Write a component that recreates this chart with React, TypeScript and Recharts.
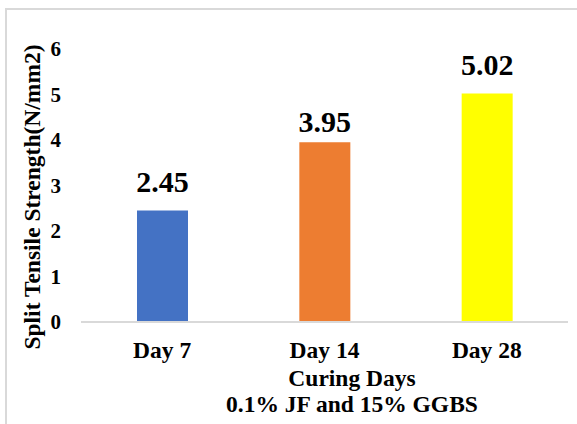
import React from "react"
import { BarChart, Bar, XAxis, YAxis, Cell, LabelList } from "recharts"

// curing age vs. split tensile strength (N/mm2)
const curingDays = ["Day 7", "Day 14", "Day 28"]
const strength = [2.45, 3.95, 5.02]
const barColors = ["#4472C4", "#ED7D31", "#FFFF00"]
const yTicks = [0, 1, 2, 3, 4, 5, 6]

const yTitle = "Split Tensile Strength(N/mm2)"
const xTitle = ["Curing Days", "0.1% JF and 15% GGBS"]

const FONT = "Liberation Serif, Times New Roman, DejaVu Serif, serif"

// gap between the value label baseline and the bar top (middle label sits lower)
const LABEL_GAP = [19, 10, 19]

function ValueLabel(props: any) {
  const { x, y, width, value, index } = props
  return (
    <text
      x={x + width / 2}
      y={y - LABEL_GAP[index]}
      textAnchor="middle"
      fill="#000"
      fontSize={30}
      fontWeight={700}
      style={{ fontFamily: FONT }}
    >
      {Number(value).toFixed(2)}
    </text>
  )
}

export default function App() {
  const data = curingDays.map((day, i) => ({ day, value: strength[i] }))

  return (
    <div
      style={{
        position: "absolute",
        left: 0,
        top: 0,
        width: 577,
        height: 424,
        overflow: "hidden",
        background: "#fff",
        fontFamily: FONT,
        fontWeight: 700,
      }}
    >
      {/* frame of the chart area, right and bottom edges fall outside */}
      <div
        style={{
          position: "absolute",
          left: 5,
          top: 8,
          width: 620,
          height: 460,
          border: "2px solid #d9d9d9",
        }}
      />
      <div style={{ position: "absolute", left: 0, top: 0 }}>
        <BarChart
          width={577}
          height={424}
          data={data}
          margin={{ top: 49, right: 9, bottom: 0, left: 0 }}
          style={{ fontFamily: FONT }}
        >
          <XAxis
            dataKey="day"
            height={102}
            tickLine={false}
            tickSize={0}
            tickMargin={19}
            axisLine={{ stroke: "#d9d9d9", strokeWidth: 2 }}
            tick={{ fill: "#000", fontSize: 23.5, fontWeight: 700, style: { fontFamily: FONT } }}
            label={{
              content: () => (
                <text
                  textAnchor="middle"
                  fill="#000"
                  fontSize={23.5}
                  fontWeight={700}
                  style={{ fontFamily: FONT }}
                >
                  <tspan x={352} y={386}>{xTitle[0]}</tspan>
                  <tspan x={352} y={412}>{xTitle[1]}</tspan>
                </text>
              ),
            }}
          />
          <YAxis
            width={81}
            domain={[0, 6]}
            ticks={yTicks}
            axisLine={false}
            tickLine={false}
            tickSize={0}
            tickMargin={20}
            tick={{ fill: "#000", fontSize: 21, fontWeight: 700, style: { fontFamily: FONT } }}
            label={{
              content: () => (
                <text
                  x={40}
                  y={197}
                  transform="rotate(-90 40 197)"
                  textAnchor="middle"
                  fill="#000"
                  fontSize={23.5}
                  fontWeight={700}
                  style={{ fontFamily: FONT }}
                >
                  {yTitle}
                </text>
              ),
            }}
          />
          <Bar dataKey="value" barSize={51} isAnimationActive={false}>
            {data.map((entry, index) => (
              <Cell key={`cell-${index}`} fill={barColors[index]} />
            ))}
            <LabelList dataKey="value" content={ValueLabel} />
          </Bar>
        </BarChart>
      </div>
    </div>
  )
}
